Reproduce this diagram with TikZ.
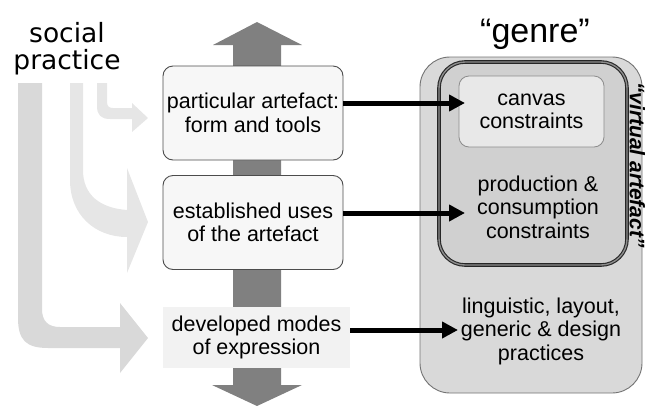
\documentclass[tikz,border=0pt]{standalone}
\usepackage{fontspec}
\setmainfont{Liberation Sans}
\newfontfamily\socialfont{DejaVu Sans}
\usetikzlibrary{arrows.meta}

\definecolor{stagefill}{HTML}{F7F7F7}
\definecolor{modefill}{HTML}{F2F2F2}
\definecolor{genrefill}{HTML}{D9D9D9}
\definecolor{vafill}{HTML}{D0D0D0}
\definecolor{canvasfill}{HTML}{E8E8E8}
\definecolor{bigflow}{HTML}{D9D9D9}
\definecolor{smallflow}{HTML}{E6E6E6}
\definecolor{midarrow}{HTML}{808080}

\tikzset{
  stage/.style={draw=black!70, line width=0.9pt, fill=stagefill, rounded corners=10pt,
    minimum width=180pt, minimum height=94pt},
  link/.style={line width=5pt, -{Triangle[length=16pt,width=16pt]}},
}

\begin{document}
\begin{tikzpicture}[x=1pt,y=-1pt,
    every node/.style={font=\fontsize{21.5}{23.5}\selectfont, align=center}]
    \useasboundingbox (0,0) rectangle (646,405);

    % big grey arrow through the stages
    \fill[midarrow] (233,385) -- (233,45) -- (213,45) -- (257,22) -- (302,45) -- (281,45)
        -- (281,385) -- (302,385) -- (257,406) -- (212,385) -- cycle;

    % social practice feeding in
    \fill[bigflow] (18,83) -- (18,318) .. controls (18,340) and (26,348) .. (48,348) -- (120,348)
        -- (120,373) -- (148,338) -- (120,303) -- (120,327) -- (60,327)
        .. controls (48,327) and (42,321) .. (42,309) -- (42,83) -- cycle;
    \fill[smallflow] (70,83) -- (70,180) .. controls (70,215) and (95,237) .. (127,237)
        -- (127,273) -- (148,222) -- (127,168) -- (127,210)
        .. controls (100,208) and (83,195) .. (83,170) -- (83,83) -- cycle;
    \fill[smallflow] (97,83) -- (97,106) .. controls (97,115) and (101,119) .. (110,119) -- (132,119)
        -- (132,132) -- (148,118) -- (132,103) -- (132,108) -- (113,108)
        .. controls (109,108) and (107,106) .. (107,102) -- (107,83) -- cycle;

    \node[font=\socialfont\fontsize{26.5}{27}\selectfont] (social) at (67,49) {social\\practice};

    \node[stage] (form) at (253,113) {particular artefact:\\form and tools};
    \node[stage] (uses) at (253,222.5) {established uses\\of the artefact};
    \node[fill=modefill, minimum width=187pt, minimum height=61pt] (modes) at (256.5,337.5) {developed modes\\of expression};

    % genre side
    \node[font=\fontsize{34}{40}\selectfont, anchor=base] (genre) at (535,42) {“genre”};
    \node[draw=black!55, line width=0.9pt, fill=genrefill, rounded corners=30pt,
        minimum width=222pt, minimum height=336pt] (genrebox) at (531,225) {};
    \node[draw=black!85, line width=1.1pt, double=black!45, double distance=1.4pt, fill=vafill,
        rounded corners=26pt, minimum width=188pt, minimum height=203pt] (virtual) at (533,163.5) {};
    \node[draw=black!45, line width=0.8pt, fill=canvasfill, rounded corners=10pt,
        minimum width=145pt, minimum height=71pt] (canvas) at (531.5,111.5) {canvas\\constraints};
    \node (prod) at (538,207) {production \&\\consumption\\constraints};
    \node (ling) at (541,331) {linguistic, layout,\\generic \& design\\practices};
    \node[rotate=-90, font=\fontsize{21}{23}\selectfont\bfseries\itshape] (vatext) at (637.5,165) {“virtual artefact”};

    \coordinate (t1) at (465,103);
    \coordinate (t2) at (465,213);
    \coordinate (t3) at (458,330);
    \draw[link] (form.east |- t1) -- (t1);
    \draw[link] (uses.east |- t2) -- (t2);
    \draw[link] (modes.east |- t3) -- (t3);
\end{tikzpicture}
\end{document}
